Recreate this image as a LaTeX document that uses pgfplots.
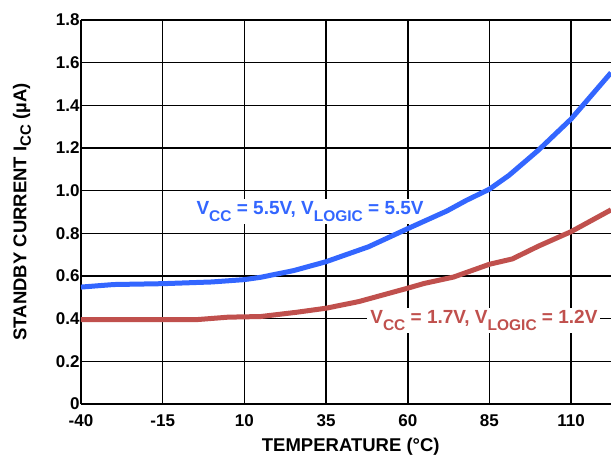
\documentclass[border=0pt]{standalone}
\usepackage{fontspec}
\setmainfont{Liberation Sans}[BoldFont={Liberation Sans Bold}]
\usepackage{pgfplots}
\pgfplotsset{compat=1.18}
\definecolor{vblue}{RGB}{51,102,255}
\definecolor{vred}{RGB}{192,80,77}
\newcommand{\sub}[1]{\raisebox{-0.32em}{\fontsize{15.5}{15.5}\selectfont\bfseries #1}}
\newcommand{\ysub}[1]{\raisebox{-0.25em}{\fontsize{15}{15}\selectfont\bfseries #1}}

\begin{document}
\begin{tikzpicture}
\begin{axis}[
	scale only axis,
	width=530pt,
	height=384pt,
	xmin=-40, xmax=122.2,
	ymin=0, ymax=1.8,
	axis x line*=bottom,
	axis y line*=left,
	axis line style={-, line width=2pt, black},
	xtick={-40,-15,10,35,60,85,110},
	ytick={0,0.2,0.4,0.6,0.8,1.0,1.2,1.4,1.6,1.8},
	yticklabels={0,0.2,0.4,0.6,0.8,1.0,1.2,1.4,1.6,1.8},
	xticklabels={-40,-15,10,35,60,85,110},
	major tick length=0pt,
	grid=major,
	grid style={black, line width=1.5pt},
	/pgf/number format/assume math mode=true,
	tick label style={font=\fontsize{17}{17}\selectfont\bfseries},
	xticklabel style={yshift=-7pt},
	yticklabel style={xshift=2pt},
	xlabel={\textbf{TEMPERATURE (°C)}},
	xlabel style={at={(axis description cs:0.509,-0.1250)}, anchor=base,
		font=\fontsize{18.5}{18.5}\selectfont\bfseries},
	ylabel={\textbf{STANDBY CURRENT I\ysub{CC} (µA)}},
	ylabel style={at={(axis description cs:-0.1113,0.5)}, anchor=center,
		font=\fontsize{18.5}{18.5}\selectfont\bfseries},
	clip=true,
]
% annotations (white boxes cut the grid)
\node[fill=white, inner sep=3pt, anchor=base, text=vblue,
	font=\fontsize{19}{19}\selectfont\bfseries]
	at (axis cs:30.1,0.886) {V\sub{CC} = 5.5V, V\sub{LOGIC} = 5.5V};
\node[fill=white, inner sep=3pt, anchor=base, text=vred,
	font=\fontsize{19}{19}\selectfont\bfseries]
	at (axis cs:83.3,0.375) {V\sub{CC} = 1.7V, V\sub{LOGIC} = 1.2V};

% VCC = 5.5V, VLOGIC = 5.5V
\addplot[vblue, line width=5pt, line join=round] coordinates {
	(-40,0.548) (-30,0.560) (-15,0.564) (0,0.572) (10,0.583) (15,0.594)
	(25,0.625) (35,0.667) (48,0.737) (60,0.822) (72,0.905) (78,0.955)
	(85,1.007) (91,1.072) (100,1.19) (110,1.336) (122.2,1.553)
};
% VCC = 1.7V, VLOGIC = 1.2V
\addplot[vred, line width=5pt, line join=round] coordinates {
	(-40,0.395) (-5,0.395) (5,0.407) (15,0.41) (26,0.43) (35,0.449)
	(45,0.48) (60,0.543) (65,0.565) (74,0.595) (85,0.655) (92,0.68)
	(100,0.74) (110,0.808) (122.2,0.91)
};
\end{axis}
\pgfresetboundingbox
\path[use as bounding box] (-81pt,-53pt) rectangle (530pt,404pt);
\end{tikzpicture}
\end{document}
